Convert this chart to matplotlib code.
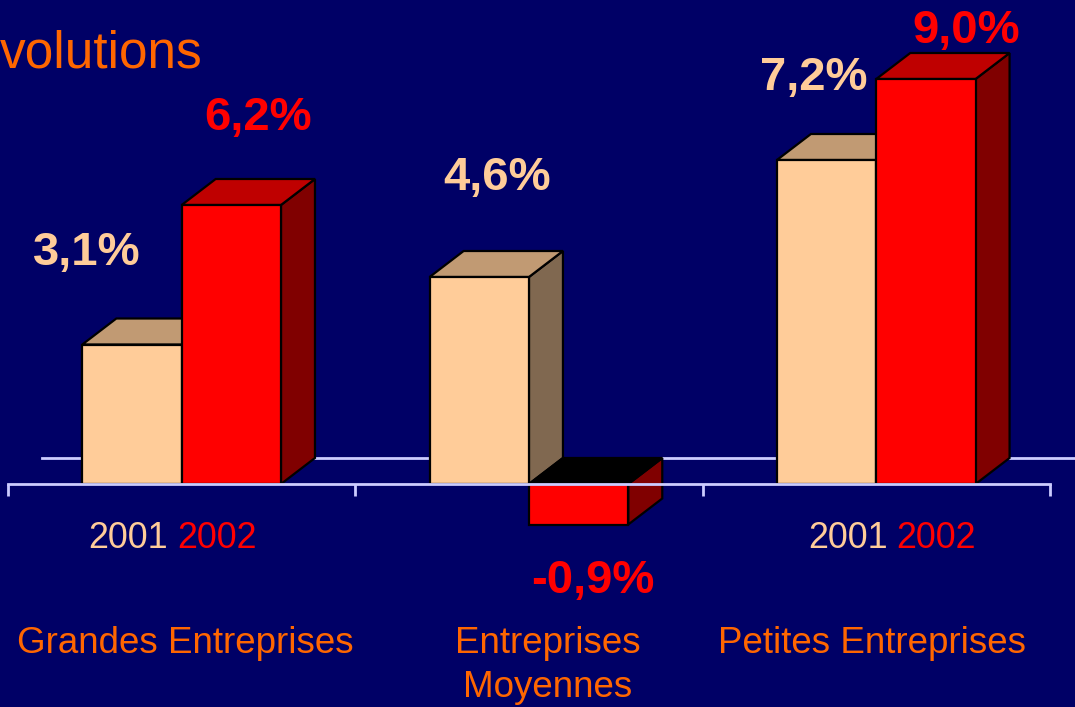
import matplotlib.pyplot as plt
from matplotlib.patches import Polygon

plt.rcParams['font.family'] = ['Liberation Sans', 'DejaVu Sans']

# data
groups = ["Grandes Entreprises", "Entreprises\nMoyennes", "Petites Entreprises"]
years = ["2001", "2002"]
v2001 = [3.1, 4.6, 7.2]
v2002 = [6.2, -0.9, 9.0]
labels2001 = ["3,1%", "4,6%", "7,2%"]
labels2002 = ["6,2%", "-0,9%", "9,0%"]
show_years = [True, False, True]

# layout (label nudges, in group / % units)
lbl_off2001 = [(-0.13, 1.77), (0.051, 1.93), (-0.036, 1.56)]
lbl_off2002 = [(0.077, 1.67), (0.041, -1.52), (0.116, 0.80)]
year_off = [-0.026, 0.0, 0.047]
cat_off = [0.011, 0.055, -0.011]

bg = "#000066"
axis_col = "#CCCCFF"
orange = "#FF6600"
front = ["#FFCC99", "#FF0000"]
top = ["#C19A73", "#BF0000"]
side = ["#806850", "#800000"]
lbl_col = ["#FFCC99", "#FF0000"]

W, H = 1075, 707
fig = plt.figure(figsize=(W / 100, H / 100), dpi=100)
fig.patch.set_facecolor(bg)
ax = fig.add_axes([0, 0, 1, 1])
ax.set_facecolor(bg)

gpx = 347.3  # px per group
upx = 45.0   # px per 1 %
x0px, y0px = 8, 484
ax.set_xlim(-0.5 - x0px / gpx, -0.5 + (W - x0px) / gpx)
ax.set_ylim(-(H - y0px) / upx, y0px / upx)

dx = 34 / gpx
dy = 26 / upx
bw = 0.286
lw = 1.6

# back wall zero line
ax.plot([-0.5 + dx, 2.5 + dx], [dy, dy], color=axis_col, lw=2, zorder=1)

z = 2
for i in range(len(groups)):
    for k, vals in enumerate([v2001, v2002]):
        v = vals[i]
        left = i - bw if k == 0 else i
        b, t = min(0, v), max(0, v)
        # side face
        ax.add_patch(Polygon([(left + bw, b), (left + bw + dx, b + dy),
                              (left + bw + dx, t + dy), (left + bw, t)],
                             closed=True, fc=side[k], ec="black", lw=lw, zorder=z))
        # top face
        tc = "black" if v < 0 else top[k]
        ax.add_patch(Polygon([(left, t), (left + bw, t), (left + bw + dx, t + dy),
                              (left + dx, t + dy)],
                             closed=True, fc=tc, ec="black", lw=lw, zorder=z + 1))
        # front face
        ax.bar(left, v, width=bw, align="edge", color=front[k], edgecolor="black",
               linewidth=lw, zorder=z + 2)
        z += 3

# value labels
for k, (vals, labs, offs) in enumerate([(v2001, labels2001, lbl_off2001),
                                       (v2002, labels2002, lbl_off2002)]):
    for i, v in enumerate(vals):
        cx = i - bw / 2 if k == 0 else i + bw / 2
        ax.text(cx + offs[i][0], v + offs[i][1], labs[i], color=lbl_col[k],
                fontsize=34, fontweight="bold", ha="center", va="baseline", zorder=60)

# year labels under groups
for i in range(len(groups)):
    if show_years[i]:
        ax.text(i + year_off[i] - 0.014, -1.42, years[0], color=lbl_col[0],
                fontsize=25.8, ha="right", va="baseline")
        ax.text(i + year_off[i] + 0.012, -1.42, years[1], color=lbl_col[1],
                fontsize=25.8, ha="left", va="baseline")

# category labels
for i, g in enumerate(groups):
    for j, line in enumerate(g.split("\n")):
        ax.text(i + cat_off[i], -3.756 - j * 44 / upx, line, color=orange,
                fontsize=26.5, ha="center", va="baseline")

# axis
for s in ["top", "left", "right"]:
    ax.spines[s].set_visible(False)
ax.spines["bottom"].set_position(("data", 0))
ax.spines["bottom"].set_bounds(-0.5, 2.5)
ax.spines["bottom"].set_color(axis_col)
ax.spines["bottom"].set_linewidth(2)
ax.spines["bottom"].set_zorder(50)
ax.set_xticks([-0.5, 0.5, 1.5, 2.5])
ax.set_yticks([])
ax.tick_params(axis="x", direction="out", length=8.5, width=2, color=axis_col,
               labelbottom=False)

fig.text(0.0, 1 - 68 / H, "volutions", color=orange, fontsize=37,
         ha="left", va="baseline")

fig.savefig("out.png", dpi=100, facecolor=bg)
